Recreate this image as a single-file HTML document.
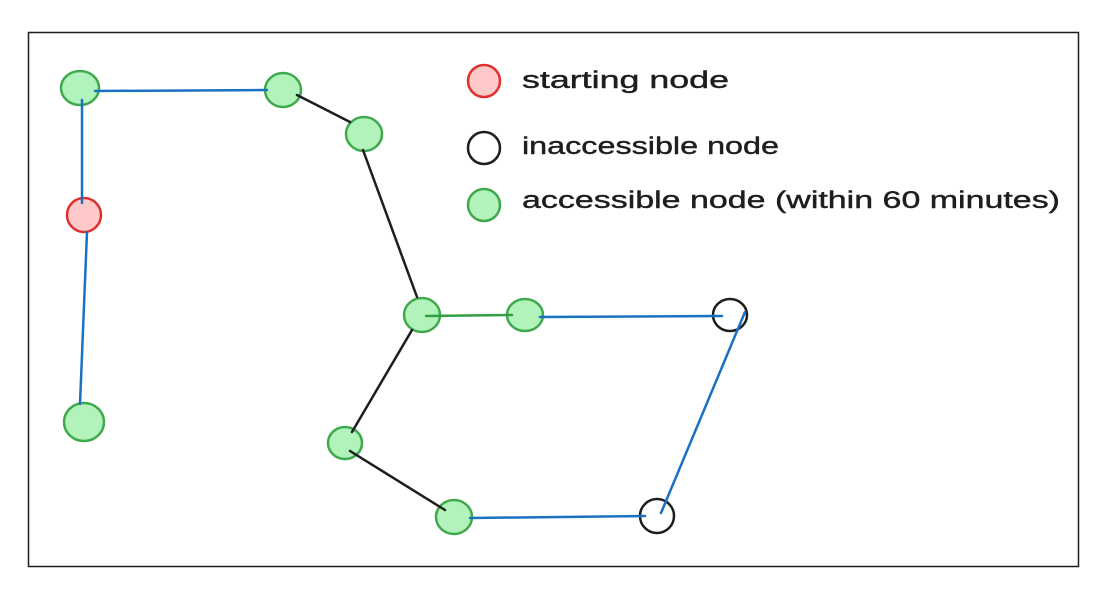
<!DOCTYPE html>
<html><head><meta charset="utf-8"><style>html,body{margin:0;padding:0;background:#fff}svg{display:block}</style></head>
<body>
<svg width="1100" height="602" viewBox="0 0 1100 602" xmlns="http://www.w3.org/2000/svg">
<rect x="28.5" y="32.5" width="1050" height="534" fill="#fff" stroke="#1e1e1e" stroke-width="1.5"/>
<g stroke-width="2.5">
<g fill="#b2f2bb" stroke="#40a94e">
<ellipse cx="80" cy="88" rx="19" ry="17"/>
<ellipse cx="283" cy="90" rx="18" ry="17"/>
<ellipse cx="364" cy="134" rx="18" ry="17"/>
<ellipse cx="84" cy="422" rx="20" ry="19"/>
<ellipse cx="422" cy="315" rx="18" ry="17"/>
<ellipse cx="525" cy="315" rx="18" ry="16"/>
<ellipse cx="345" cy="443" rx="17" ry="16"/>
<ellipse cx="454" cy="517" rx="18" ry="17"/>
<ellipse cx="484" cy="205" rx="16" ry="16"/>
</g>
<g fill="#ffc9c9" stroke="#e03131">
<ellipse cx="84" cy="215" rx="17" ry="17"/>
<ellipse cx="484" cy="81" rx="16" ry="16"/>
</g>
<g fill="none" stroke="#1e1e1e">
<ellipse cx="730" cy="315" rx="17" ry="16"/>
<ellipse cx="657" cy="516" rx="17" ry="17"/>
<ellipse cx="484" cy="148" rx="16" ry="16"/>
</g>
</g>
<g stroke-width="2.5" stroke-linecap="round" fill="none">
<line x1="95" y1="91" x2="267" y2="90" stroke="#1971c2"/>
<line x1="82" y1="100" x2="82" y2="203" stroke="#1971c2"/>
<line x1="87" y1="232" x2="80" y2="404" stroke="#1971c2"/>
<line x1="297" y1="95" x2="350" y2="122" stroke="#1e1e1e"/>
<line x1="363" y1="150" x2="417" y2="297" stroke="#1e1e1e"/>
<line x1="426" y1="316" x2="512" y2="315" stroke="#2f9e44"/>
<line x1="540" y1="317" x2="722" y2="316" stroke="#1971c2"/>
<line x1="745" y1="312" x2="661" y2="513" stroke="#1971c2"/>
<line x1="412" y1="330" x2="352" y2="432" stroke="#1e1e1e"/>
<line x1="350" y1="451" x2="445" y2="510" stroke="#1e1e1e"/>
<line x1="470" y1="518" x2="645" y2="516" stroke="#1971c2"/>
</g>
<g font-family="'Liberation Sans', sans-serif" font-size="24" fill="#1e1e1e" stroke="#1e1e1e" stroke-width="0.4">
<text x="522" y="88" textLength="207" lengthAdjust="spacingAndGlyphs">starting node</text>
<text x="522" y="154" textLength="257" lengthAdjust="spacingAndGlyphs">inaccessible node</text>
<text x="522" y="208" textLength="538" lengthAdjust="spacingAndGlyphs">accessible node (within 60 minutes)</text>
</g>
</svg>
</body></html>
